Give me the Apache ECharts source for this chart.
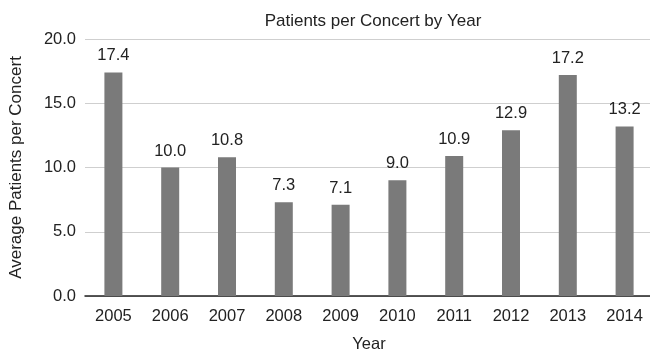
<!DOCTYPE html>
<html>
<head>
<meta charset="utf-8">
<script src="https://cdn.jsdelivr.net/npm/echarts@6/dist/echarts.min.js"></script>
<style>
  html, body { margin: 0; padding: 0; background: #fff; }
  #chart { width: 650px; height: 354px; }
</style>
</head>
<body>
<div id="chart"></div>
<script>
// Average patients per concert, one bar per year
const years = ['2005', '2006', '2007', '2008', '2009', '2010', '2011', '2012', '2013', '2014'];
const patientsPerConcert = [17.4, 10.0, 10.8, 7.3, 7.1, 9.0, 10.9, 12.9, 17.2, 13.2];

const font = 'Liberation Sans, Arial, Helvetica, sans-serif';
const ink = '#222';

const chart = echarts.init(document.getElementById('chart'), null, { renderer: 'canvas' });
chart.setOption({
  animation: false,
  title: {
    text: 'Patients per Concert by Year',
    left: 368,
    top: 8,
    textAlign: 'center',
    textStyle: { fontFamily: font, fontSize: 17, fontWeight: 'normal', color: ink }
  },
  grid: {
    left: 85, top: 39, width: 568, height: 257,
    containLabel: false,
    outerBoundsMode: 'none'
  },
  xAxis: {
    type: 'category',
    data: years,
    name: 'Year',
    nameLocation: 'middle',
    nameGap: 40,
    nameTextStyle: { fontFamily: font, fontSize: 16.5, color: ink },
    axisLine: { lineStyle: { color: '#222', width: 1.5 } },
    axisTick: { show: false },
    axisLabel: { fontFamily: font, fontSize: 16.5, color: ink, margin: 12 }
  },
  yAxis: {
    type: 'value',
    min: 0,
    max: 20,
    interval: 5,
    name: 'Average Patients per Concert',
    nameLocation: 'middle',
    nameGap: 60,
    nameTextStyle: { fontFamily: font, fontSize: 17, color: ink },
    axisLine: { show: false },
    axisTick: { show: false },
    splitLine: { lineStyle: { color: '#cfcfcf', width: 1 } },
    axisLabel: {
      fontFamily: font, fontSize: 16.5, color: ink, margin: 9,
      formatter: v => v.toFixed(1)
    }
  },
  series: [{
    type: 'bar',
    data: patientsPerConcert,
    barWidth: 18,
    itemStyle: { color: '#7a7a7a' },
    label: {
      show: true,
      position: 'top',
      distance: 8,
      fontFamily: font,
      fontSize: 16.5,
      color: ink,
      formatter: p => p.value.toFixed(1)
    }
  }]
});
</script>
</body>
</html>
